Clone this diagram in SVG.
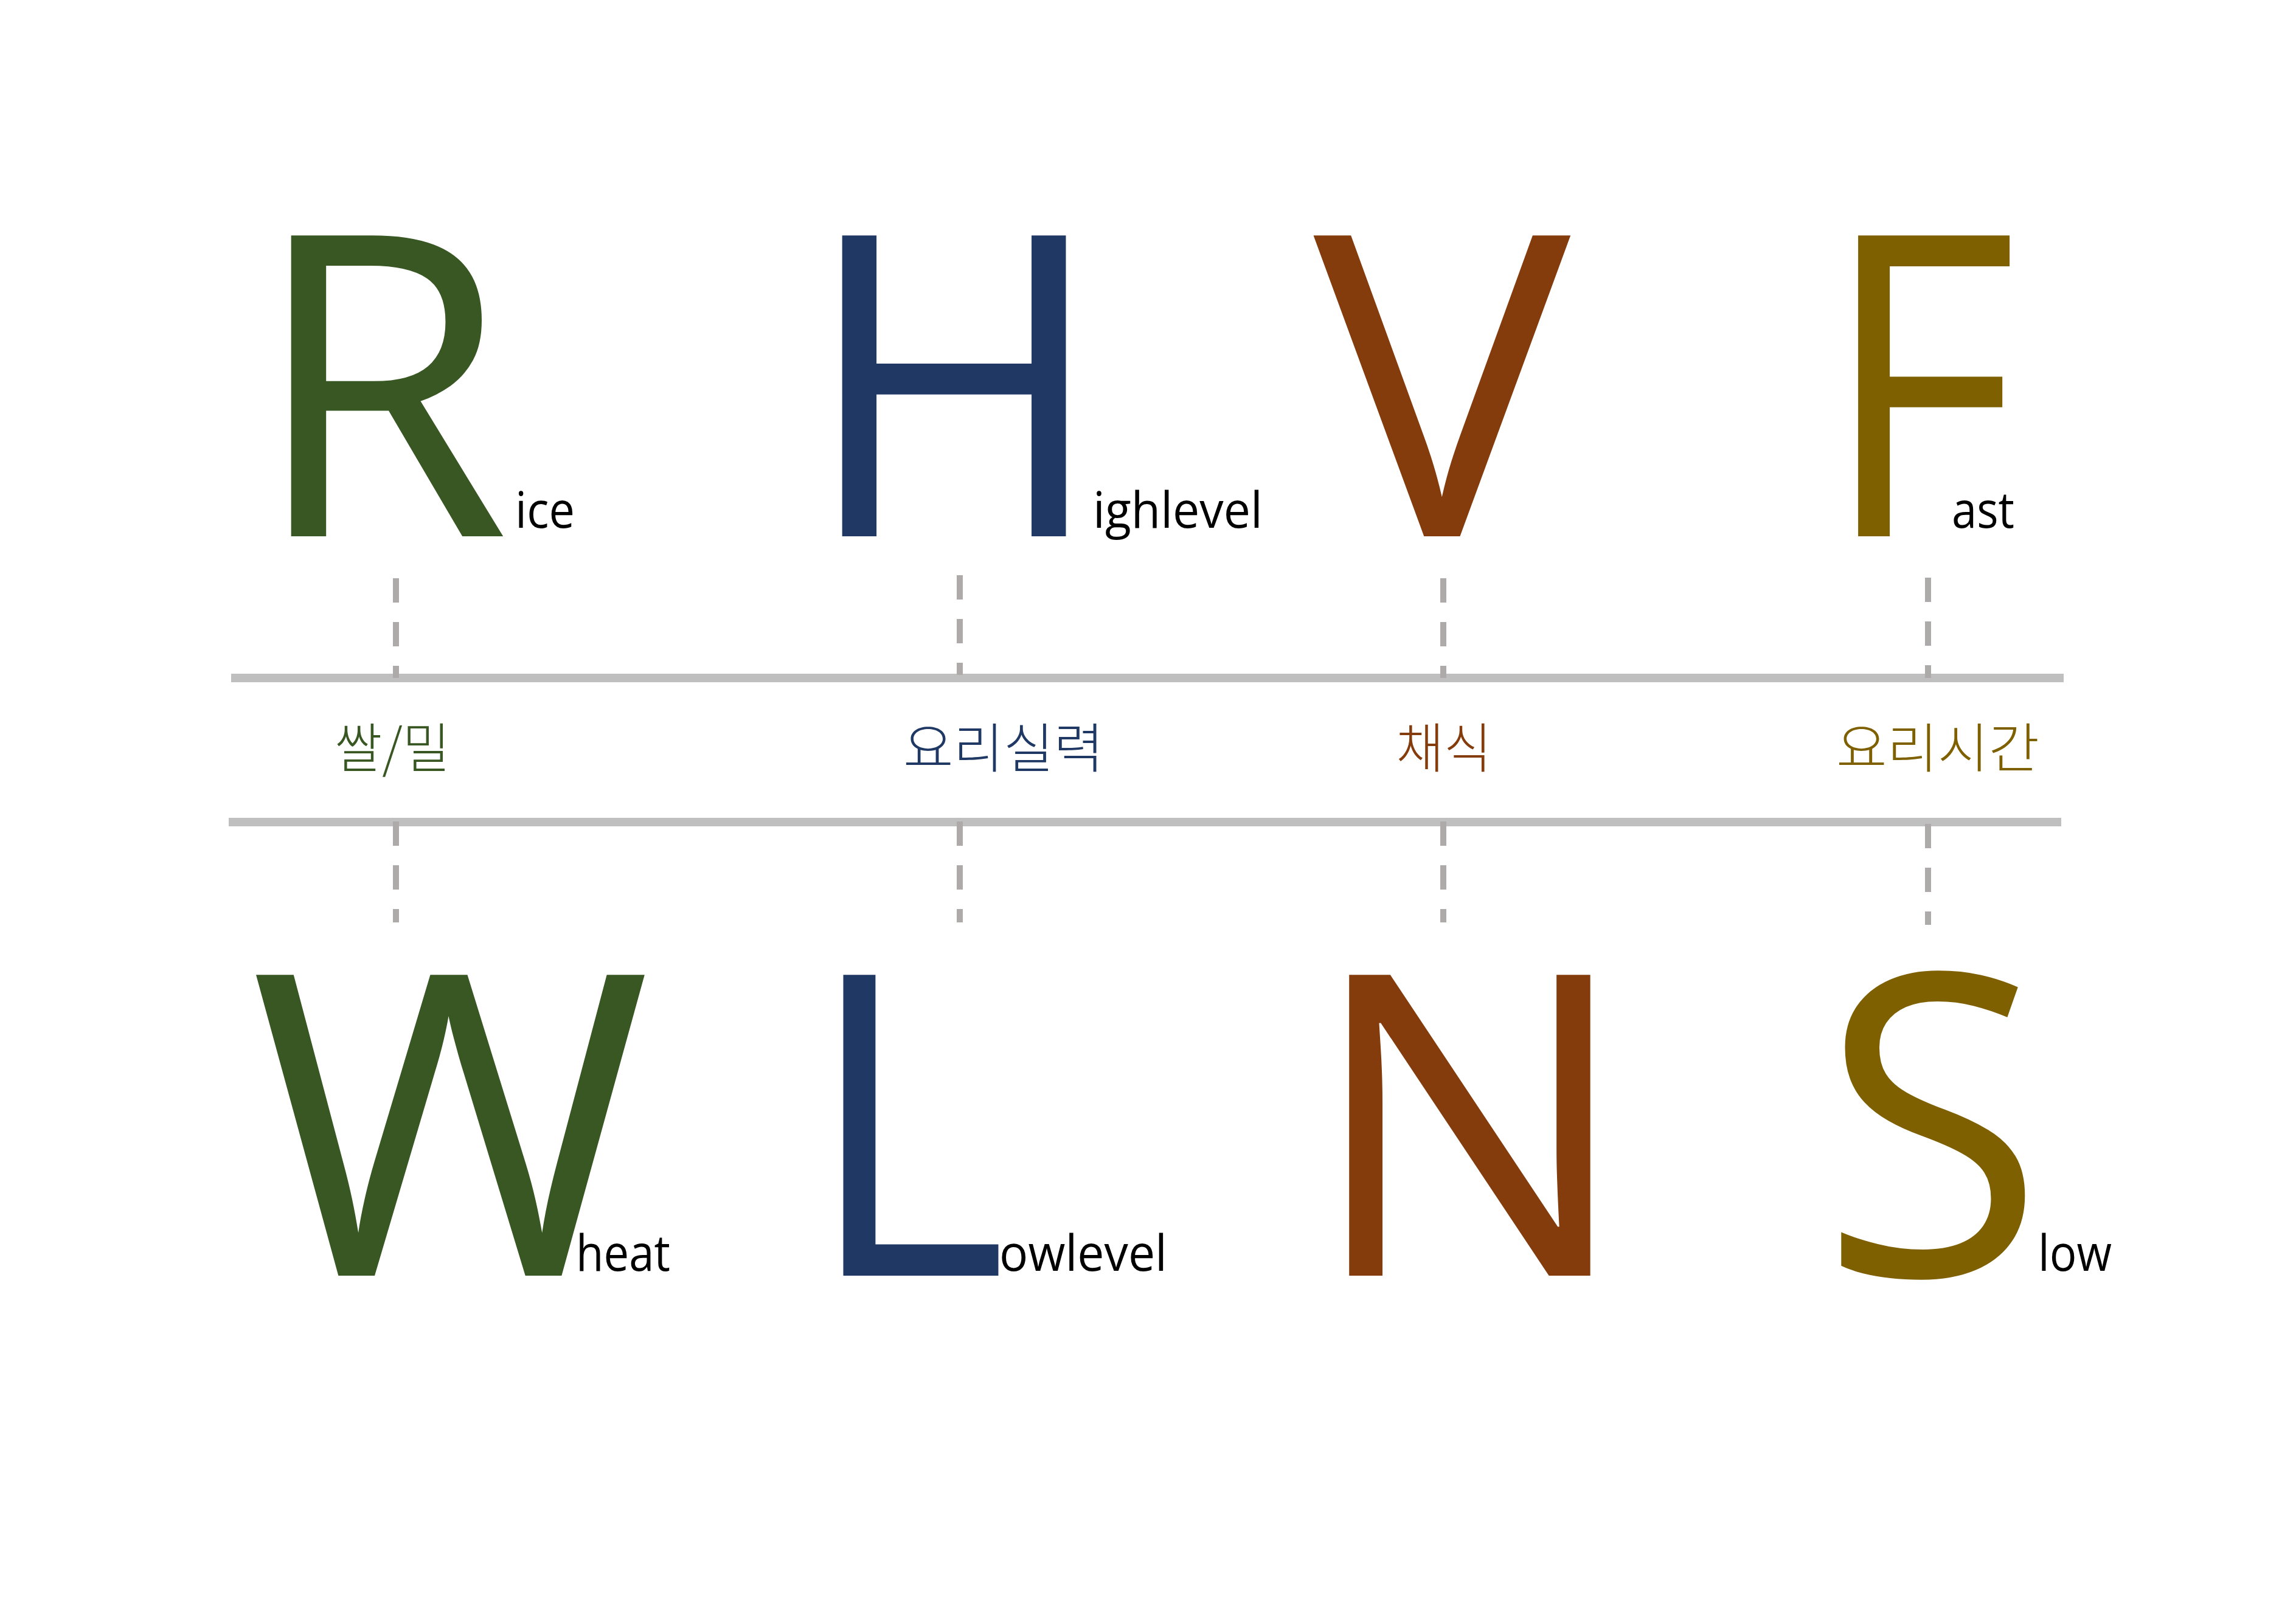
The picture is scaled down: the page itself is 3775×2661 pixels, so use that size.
<svg xmlns="http://www.w3.org/2000/svg" width="3775" height="2661" viewBox="0 0 3775 2661">
<style>
.big{font-family:"Open Sans","Noto Sans",sans-serif;font-size:693px}
.sm{font-family:"Open Sans","Noto Sans",sans-serif;font-size:82px;fill:#000}
.kr{font-family:"Noto Sans CJK KR","Noto Sans",sans-serif;font-size:88px;font-weight:300;text-anchor:middle}
.g{fill:#385723}.b{fill:#1F3864}.o{fill:#843C0C}.y{fill:#7F6000}
.hl{stroke:#BFBFBF;stroke-width:14;fill:none}
.dl{stroke:#AEAAAA;stroke-width:10;stroke-dasharray:40 32;fill:none}
</style>
<rect width="3775" height="2661" fill="#FFFFFF"/>
<g id="connectors">
<line class="hl" x1="380" y1="1115" x2="3393" y2="1115"/>
<line class="hl" x1="376" y1="1352" x2="3389" y2="1352"/>
<line class="dl" x1="651" y1="951" x2="651" y2="1115"/>
<line class="dl" x1="1578" y1="946" x2="1578" y2="1110"/>
<line class="dl" x1="2373" y1="951" x2="2373" y2="1115"/>
<line class="dl" x1="3170" y1="950" x2="3170" y2="1115"/>
<line class="dl" x1="651" y1="1351" x2="651" y2="1517"/>
<line class="dl" x1="1578" y1="1351" x2="1578" y2="1517"/>
<line class="dl" x1="2373" y1="1351" x2="2373" y2="1517"/>
<line class="dl" x1="3170" y1="1355" x2="3170" y2="1521"/>
</g>
<g id="node-rice">
<text class="big g" x="411" y="882">R</text>
<text class="sm" x="847" y="868" textLength="98" lengthAdjust="spacingAndGlyphs">ice</text>
</g>
<g id="node-highlevel">
<text class="big b" x="1317" y="882" transform="translate(1385,0) scale(0.981,1) translate(-1385,0)">H</text>
<text class="sm" x="1797" y="868" textLength="279" lengthAdjust="spacingAndGlyphs">ighlevel</text>
</g>
<g id="node-v">
<text class="big o" x="2160" y="882" transform="translate(2178,0) scale(1.023,1) translate(-2178,0)">V</text>
</g>
<g id="node-fast">
<text class="big y" x="2985" y="882" transform="translate(3078,0) scale(0.904,1) translate(-3078,0)">F</text>
<text class="sm" x="3209" y="868" textLength="103" lengthAdjust="spacingAndGlyphs">ast</text>
</g>
<g id="node-wheat">
<text class="big g" x="411" y="2098" transform="translate(425,0) scale(1.031,1) translate(-425,0)">W</text>
<text class="sm" x="947" y="2090" textLength="155" lengthAdjust="spacingAndGlyphs">heat</text>
</g>
<g id="node-lowlevel">
<text class="big b" x="1318" y="2098" transform="translate(1396,0) scale(0.92,1) translate(-1396,0)">L</text>
<text class="sm" x="1643" y="2090" textLength="276" lengthAdjust="spacingAndGlyphs">owlevel</text>
</g>
<g id="node-n">
<text class="big o" x="2151" y="2098" transform="translate(2236,0) scale(1.025,1) translate(-2236,0)">N</text>
</g>
<g id="node-slow">
<text class="big y" x="2991" y="2098" transform="translate(3052,0) scale(0.97,1) translate(-3052,0)">S</text>
<text class="sm" x="3351" y="2090" textLength="121" lengthAdjust="spacingAndGlyphs">low</text>
</g>
<g id="label-rice-wheat"><text class="kr g" x="645" y="1262" textLength="190" lengthAdjust="spacingAndGlyphs">쌀/밀</text></g>
<g id="label-skill"><text class="kr b" x="1650" y="1262" textLength="330" lengthAdjust="spacingAndGlyphs">요리실력</text></g>
<g id="label-diet"><text class="kr o" x="2374" y="1262" textLength="157" lengthAdjust="spacingAndGlyphs">채식</text></g>
<g id="label-time"><text class="kr y" x="3186" y="1262" textLength="334" lengthAdjust="spacingAndGlyphs">요리시간</text></g>
</svg>
